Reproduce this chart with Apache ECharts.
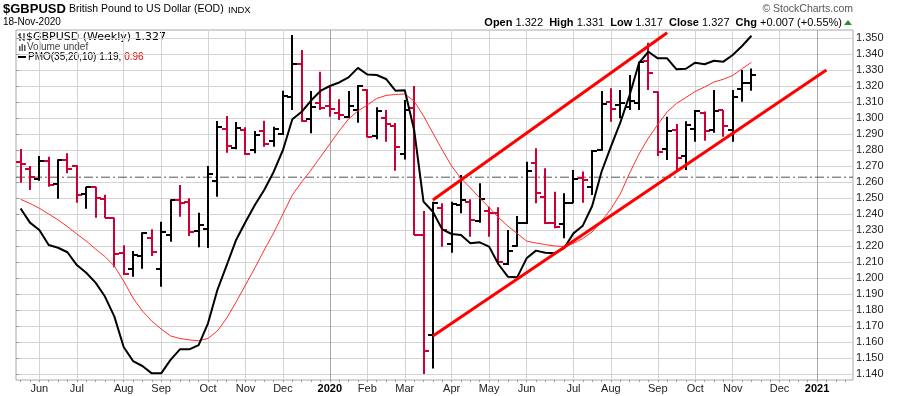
<!DOCTYPE html>
<html><head><meta charset="utf-8">
<script src="https://cdn.jsdelivr.net/npm/echarts@6/dist/echarts.min.js"></script>
<style>html,body{margin:0;padding:0;background:#fff}#c{width:900px;height:396px}</style>
</head><body><div id="c"></div>
<script>
// ---- data ----
const startWeek = '2019-05-20';
const weekCount = 89;            // weekly slots on the axis (data + empty future weeks)
const opens = [1.2723,1.2680,1.2617,1.2730,1.2588,1.2738,1.2700,1.2525,1.2569,1.2492,
1.2373,1.2154,1.2054,1.2138,1.2248,1.2054,1.2267,1.2488,1.2475,1.2292,
1.2304,1.2604,1.2929,1.2811,1.2925,1.2800,1.2919,1.2856,1.2902,1.3129,
1.3338,1.2996,1.3092,1.3077,1.3029,1.3008,1.3050,1.3175,1.2888,1.2998,
1.2950,1.2773,1.3060,1.2269,1.1644,1.2435,1.2211,1.2456,1.2477,1.2358,
1.2419,1.2404,1.2085,1.2200,1.2342,1.2721,1.2508,1.2342,1.2338,1.2467,
1.2623,1.2571,1.2800,1.3102,1.3081,1.3071,1.3096,1.3356,1.3165,1.2806,
1.2925,1.2760,1.2929,1.3029,1.2925,1.3050,1.2925,1.3179,1.3220];
const highs = [1.2806,1.2700,1.2763,1.2758,1.2742,1.2779,1.2704,1.2571,1.2571,1.2520,
1.2377,1.2204,1.2169,1.2286,1.2304,1.2352,1.2492,1.2581,1.2498,1.2408,
1.2700,1.2981,1.3013,1.2975,1.2942,1.2919,1.2983,1.2946,1.3171,1.3519,
1.3425,1.3169,1.3289,1.3206,1.3117,1.3169,1.3206,1.3179,1.3067,1.3050,
1.2969,1.3113,1.3200,1.2419,1.2477,1.2467,1.2477,1.2644,1.2492,1.2592,
1.2446,1.2442,1.2300,1.2388,1.2727,1.2811,1.2686,1.2539,1.2529,1.2675,
1.2665,1.2800,1.3169,1.3186,1.3175,1.3269,1.3352,1.3470,1.3165,1.3008,
1.2963,1.2980,1.3050,1.3040,1.3175,1.3050,1.3175,1.3300,1.3310];
const lows = [1.2596,1.2550,1.2608,1.2570,1.2496,1.2654,1.2471,1.2433,1.2377,1.2375,
1.2067,1.2019,1.2008,1.2058,1.2138,1.1946,1.2227,1.2383,1.2263,1.2192,
1.2188,1.2508,1.2783,1.2804,1.2769,1.2779,1.2821,1.2821,1.2894,1.3050,
1.2977,1.2904,1.3050,1.3008,1.2988,1.2998,1.2971,1.2879,1.2867,1.2852,
1.2671,1.2740,1.2269,1.1400,1.1435,1.2196,1.2158,1.2404,1.2258,1.2346,
1.2258,1.2096,1.2081,1.2196,1.2338,1.2467,1.2338,1.2311,1.2248,1.2467,
1.2471,1.2519,1.2796,1.2977,1.2998,1.3050,1.3050,1.3175,1.2763,1.2738,
1.2675,1.2675,1.2852,1.2858,1.2908,1.2883,1.2852,1.3102,1.3170];
const closes = [1.2711,1.2630,1.2729,1.2580,1.2738,1.2683,1.2519,1.2571,1.2498,1.2377,
1.2150,1.2023,1.2144,1.2281,1.2160,1.2288,1.2490,1.2467,1.2288,1.2329,
1.2650,1.2942,1.2825,1.2936,1.2775,1.2896,1.2836,1.2931,1.3138,1.3338,
1.2981,1.3070,1.3062,1.3054,1.3019,1.3075,1.3202,1.2879,1.3046,1.2960,
1.2817,1.3050,1.2269,1.1546,1.2467,1.2300,1.2463,1.2488,1.2363,1.2492,
1.2404,1.2102,1.2169,1.2346,1.2671,1.2529,1.2342,1.2321,1.2467,1.2617,
1.2612,1.2794,1.3088,1.3054,1.3095,1.3105,1.3350,1.3279,1.2790,1.2921,
1.2748,1.2955,1.3044,1.2921,1.3044,1.2950,1.3133,1.3221,1.3270];
// PMO overlay (drawn in price units as shown on the chart)
const pmo = [1.2434,1.2346,1.2300,1.2206,1.2189,1.2161,1.2081,1.2033,1.1971,1.1884,
1.1760,1.1569,1.1481,1.1450,1.1404,1.1404,1.1488,1.1554,1.1554,1.1581,
1.1717,1.1925,1.2081,1.2238,1.2350,1.2456,1.2550,1.2663,1.2800,1.2992,
1.3039,1.3109,1.3169,1.3200,1.3222,1.3254,1.3313,1.3272,1.3269,1.3244,
1.3171,1.3173,1.2925,1.2477,1.2414,1.2304,1.2275,1.2269,1.2217,1.2223,
1.2196,1.2086,1.2008,1.2004,1.2123,1.2171,1.2158,1.2154,1.2186,1.2279,
1.2327,1.2450,1.2664,1.2821,1.2971,1.3144,1.3344,1.3414,1.3373,1.3373,
1.3304,1.3308,1.3346,1.3336,1.3358,1.3352,1.3394,1.3450,1.3514];
const pmoSignal = [1.2492,1.2466,1.2436,1.2400,1.2363,1.2321,1.2275,1.2231,1.2181,1.2134,
1.2075,1.1981,1.1875,1.1794,1.1731,1.1681,1.1638,1.1622,1.1613,1.1608,
1.1622,1.1669,1.1750,1.1850,1.1956,1.2063,1.2175,1.2281,1.2400,1.2519,
1.2600,1.2675,1.2756,1.2838,1.2919,1.2994,1.3044,1.3081,1.3122,1.3141,
1.3147,1.3150,1.3106,1.3013,1.2906,1.2800,1.2700,1.2622,1.2563,1.2500,
1.2441,1.2378,1.2325,1.2278,1.2231,1.2219,1.2209,1.2200,1.2197,1.2216,
1.2247,1.2288,1.2356,1.2431,1.2525,1.2656,1.2775,1.2875,1.2959,1.3038,
1.3091,1.3128,1.3166,1.3194,1.3225,1.3242,1.3266,1.3308,1.3348];
const upperChannel = [[44, 1.2488], [69, 1.3533]];   // [week index, price]
const lowerChannel = [[44, 1.1638], [86, 1.3300]];
const refLevel = 1.263;
const yMin = 1.14, yMax = 1.35, yStep = 0.01;
const monthNames = ['Jan','Feb','Mar','Apr','May','Jun','Jul','Aug','Sep','Oct','Nov','Dec'];

// ---- build ----
const weeks = [];
const t0 = Date.parse(startWeek + 'T00:00:00Z');
for (let i = 0; i < weekCount; i++) weeks.push(new Date(t0 + i * 7 * 864e5).toISOString().slice(0, 10));
const isMonthStart = i => i > 0 && weeks[i].slice(5, 7) !== weeks[i - 1].slice(5, 7);
const splitColors = weeks.filter((w, i) => isMonthStart(i)).map(w => w.slice(5, 7) === '01' ? '#a8a8a8' : '#d4d4d4');
const RED = '#cc0033', BLACK = '#000000';
const ohlc = opens.map((o, i) => [i, o, highs[i], lows[i], closes[i]]);

const FONT = '"Liberation Sans", Arial, sans-serif';
const chart = echarts.init(document.getElementById('c'), null, {renderer: 'canvas'});
chart.setOption({
  animation: false,
  backgroundColor: '#ffffff',
  grid: [
    {left: 20.6, width: 88 * 9.37, top: 30, height: 350, show: false},
    {left: 16, right: 47, top: 38, height: 336, show: false},
    {left: 16, right: 47, top: 30, height: 350, show: true, borderColor: '#a8a8a8', borderWidth: 1, backgroundColor: 'transparent'}
  ],
  xAxis: [
    {type: 'category', gridIndex: 0, data: weeks, boundaryGap: false,
     axisLine: {show: false},
     axisTick: {show: true, interval: 0, length: 2, lineStyle: {color: '#999'}},
     splitLine: {show: true, interval: (i) => isMonthStart(i), lineStyle: {color: splitColors, width: 1}},
     axisLabel: {show: true, interval: (i) => isMonthStart(i), margin: 3, fontSize: 11, fontFamily: FONT, color: '#222',
       formatter: (v) => { const m = +v.slice(5, 7); return m === 1 ? '{y|' + v.slice(0, 4) + '}' : monthNames[m - 1]; },
       rich: {y: {fontWeight: 'bold', fontSize: 11, fontFamily: FONT, color: '#000'}}}},
    {type: 'value', gridIndex: 1, min: 0, max: 1, show: false},
    {type: 'value', gridIndex: 2, min: 0, max: 1, show: false}
  ],
  yAxis: [
    {type: 'value', gridIndex: 0, min: 1.13625, max: 1.355, show: false},
    {type: 'value', gridIndex: 1, position: 'right', min: yMin, max: yMax, interval: yStep,
     axisLine: {show: false},
     axisTick: {show: true, length: 3, lineStyle: {color: '#999'}},
     axisLabel: {margin: 3, fontSize: 11, fontFamily: FONT, color: '#222', formatter: v => v.toFixed(3)},
     splitLine: {show: true, lineStyle: {color: '#d4d4d4', width: 1}}},
    {type: 'value', gridIndex: 2, min: 0, max: 1, show: false}
  ],
  series: [
    {type: 'line', xAxisIndex: 1, yAxisIndex: 1, data: [[0, refLevel], [1, refLevel]], symbol: 'none', silent: true,
     lineStyle: {color: '#555', width: 1, type: [9, 3, 2, 3]}, z: 1},
    {type: 'custom', xAxisIndex: 0, yAxisIndex: 0, data: ohlc, encode: {x: 0, y: [1, 2, 3, 4]}, z: 3,
     renderItem: function (params, api) {
       const i = api.value(0);
       const pO = api.coord([i, api.value(1)]);
       const pH = api.coord([i, api.value(2)]);
       const pL = api.coord([i, api.value(3)]);
       const pC = api.coord([i, api.value(4)]);
       const x = Math.round(pO[0]);
       const prev = i > 0 ? closes[i - 1] : opens[i];
       const color = closes[i] < prev ? RED : BLACK;
       const st = {stroke: color, lineWidth: 2};
       const yo = Math.round(pO[1]), yc = Math.round(pC[1]);
       return {type: 'group', children: [
         {type: 'line', shape: {x1: x, y1: pH[1], x2: x, y2: pL[1]}, style: st},
         {type: 'line', shape: {x1: x - 5, y1: yo, x2: x, y2: yo}, style: st},
         {type: 'line', shape: {x1: x, y1: yc, x2: x + 5, y2: yc}, style: st}
       ]};
     }},
    {type: 'line', xAxisIndex: 0, yAxisIndex: 0, data: pmoSignal, symbol: 'none', z: 4,
     lineStyle: {color: '#ff3030', width: 1}},
    {type: 'line', xAxisIndex: 0, yAxisIndex: 0, data: pmo, symbol: 'none', z: 5,
     lineStyle: {color: '#000', width: 2}},
    {type: 'line', xAxisIndex: 0, yAxisIndex: 0, data: upperChannel, symbol: 'none', z: 6,
     lineStyle: {color: '#ff0000', width: 3}},
    {type: 'line', xAxisIndex: 0, yAxisIndex: 0, data: lowerChannel, symbol: 'none', z: 6,
     lineStyle: {color: '#ff0000', width: 3}}
  ],
  graphic: [
    {type: 'text', x: 3, y: 9, style: {text: '$GBPUSD', font: 'bold 13px ' + FONT, fill: '#000', verticalAlign: 'middle'}},
    {type: 'text', x: 69, y: 9.5, style: {text: 'British Pound to US Dollar (EOD)', font: '10.5px ' + FONT, fill: '#000', verticalAlign: 'middle'}},
    {type: 'text', x: 228, y: 10, style: {text: 'INDX', font: '9.5px ' + FONT, fill: '#000', verticalAlign: 'middle'}},
    {type: 'text', x: 3, y: 22, style: {text: '18-Nov-2020', font: '10px ' + FONT, fill: '#000', verticalAlign: 'middle'}},
    {type: 'text', x: 853, y: 9.5, style: {text: '© StockCharts.com', font: '10.5px ' + FONT, fill: '#555', align: 'right', verticalAlign: 'middle'}},
    {type: 'text', x: 842, y: 22.5, style: {
      text: '{b|Open} 1.322  {b|High} 1.331  {b|Low} 1.317  {b|Close} 1.327  {b|Chg} +0.007 (+0.55%)',
      font: '11px ' + FONT, fill: '#000', align: 'right', verticalAlign: 'middle',
      rich: {b: {font: 'bold 11px ' + FONT, fill: '#000'}}}},
    {type: 'polygon', shape: {points: [[844, 25], [852, 25], [848, 20]]}, style: {fill: '#2e8b3a'}},
    // legend glyphs inside the plot
    {type: 'line', shape: {x1: 20, y1: 33, x2: 20, y2: 41}, style: {stroke: '#000', lineWidth: 1}},
    {type: 'line', shape: {x1: 18, y1: 35, x2: 20, y2: 35}, style: {stroke: '#000', lineWidth: 1}},
    {type: 'line', shape: {x1: 20, y1: 38, x2: 22, y2: 38}, style: {stroke: '#000', lineWidth: 1}},
    {type: 'line', shape: {x1: 24, y1: 33, x2: 24, y2: 41}, style: {stroke: '#000', lineWidth: 1}},
    {type: 'line', shape: {x1: 22, y1: 39, x2: 24, y2: 39}, style: {stroke: '#000', lineWidth: 1}},
    {type: 'text', x: 26, y: 37, style: {text: '$GBPUSD (Weekly) 1.327', font: '11px "DejaVu Sans", sans-serif', fill: '#000', verticalAlign: 'middle'}},
    {type: 'rect', shape: {x: 19, y: 46, width: 1.5, height: 5}, style: {fill: '#555'}},
    {type: 'rect', shape: {x: 21.5, y: 44, width: 1.5, height: 7}, style: {fill: '#555'}},
    {type: 'rect', shape: {x: 24, y: 45, width: 1.5, height: 6}, style: {fill: '#555'}},
    {type: 'text', x: 27, y: 47.5, style: {text: 'Volume undef', font: '10px ' + FONT, fill: '#444', verticalAlign: 'middle'}},
    {type: 'line', shape: {x1: 18, y1: 57, x2: 26, y2: 57}, style: {stroke: '#000', lineWidth: 2}},
    {type: 'text', x: 28, y: 57, style: {text: 'PMO(35,20,10) 1.19, {r|0.96}', font: '10px ' + FONT, fill: '#000', verticalAlign: 'middle',
      rich: {r: {fill: '#e00000', font: '10px ' + FONT}}}}
  ]
});
</script></body></html>
